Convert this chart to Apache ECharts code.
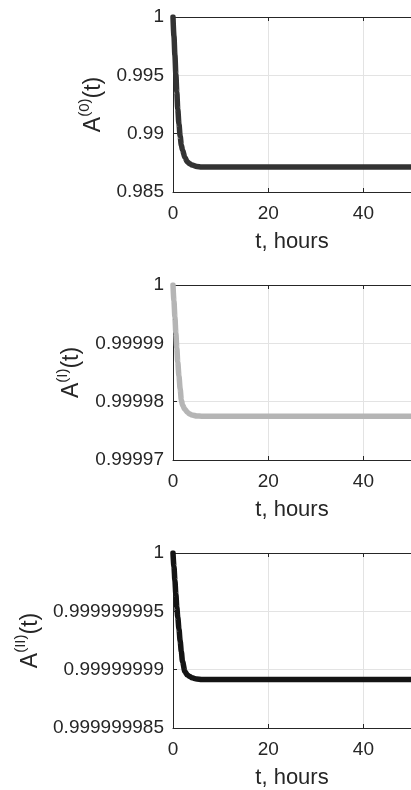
<!DOCTYPE html>
<html>
<head>
<meta charset="utf-8">
<script src="https://cdn.jsdelivr.net/npm/echarts@6/dist/echarts.min.js"></script>
<style>
html,body{margin:0;padding:0;background:#fff;}
#chart{width:411px;height:790px;}
</style>
</head>
<body>
<div id="chart"></div>
<script>
// ---- data ----
const tHours = [0, 0.2, 0.4, 0.6, 0.8, 1, 1.25, 1.5, 1.75, 2, 2.5, 3, 3.5, 4, 5, 6, 8, 10, 20, 30, 40, 50];

const A0 = [1.0, 0.99837, 0.99674, 0.99511, 0.99357, 0.99211, 0.99083, 0.98980, 0.98903, 0.98860,
            0.98796, 0.98759, 0.98742, 0.98731, 0.98719, 0.98715, 0.98714, 0.98714, 0.98714, 0.98714, 0.98714, 0.98714];

const A1 = [1.0, 0.99999726, 0.99999451, 0.99999177, 0.99998920, 0.99998680, 0.99998440, 0.99998220,
            0.99998030, 0.99997940, 0.99997870, 0.99997820, 0.99997790, 0.99997770, 0.99997755, 0.99997750,
            0.99997750, 0.99997750, 0.99997750, 0.99997750, 0.99997750, 0.99997750];

const A2 = [1.0, 0.999999998837, 0.999999997650, 0.999999996460, 0.999999995360, 0.999999994510,
            0.999999993490, 0.999999992470, 0.999999991540, 0.999999990690, 0.999999989840,
            0.999999989540, 0.999999989410, 0.999999989300, 0.999999989190, 0.999999989160,
            0.999999989150, 0.999999989150, 0.999999989150, 0.999999989150, 0.999999989150, 0.999999989150];

const xTicks = [0, 20, 40];
const yTicks0 = ['0.985', '0.99', '0.995', '1'];
const yTicks1 = ['0.99997', '0.99998', '0.99999', '1'];
const yTicks2 = ['0.999999985', '0.99999999', '0.999999995', '1'];

const xLabel = 't, hours';
const yNames = ['(0)', '(I)', '(II)'];

// ---- styling ----
const FONT = '"Liberation Sans", Arial, Helvetica, sans-serif';
const TXT = '#262626';
const GRIDC = '#e3e3e3';

const panels = [
  {top: 17, height: 175, min: 0.985, max: 1, interval: 0.005, dec: 3, data: A0, color: '#333333', sup: yNames[0], gap: 54},
  {top: 285, height: 175, min: 0.99997, max: 1, interval: 0.00001, dec: 5, data: A1, color: '#b5b5b5', sup: yNames[1], gap: 84},
  {top: 553, height: 176, min: 0.999999985, max: 1, interval: 0.000000005, dec: 9, data: A2, color: '#141414', sup: yNames[2], gap: 124}
];

const grid = [], xAxis = [], yAxis = [], series = [];
panels.forEach((p, i) => {
  grid.push({left: 173, top: p.top, width: 245, height: p.height, containLabel: false});
  xAxis.push({
    type: 'value', gridIndex: i, min: 0, max: 50, interval: 20, position: 'bottom',
    name: xLabel, nameLocation: 'middle', nameGap: 39,
    nameTextStyle: {fontFamily: FONT, fontSize: 22, color: TXT},
    axisLine: {show: true, onZero: false, lineStyle: {color: TXT, width: 1}},
    axisTick: {show: true, inside: true, length: 4, lineStyle: {color: TXT}},
    axisLabel: {fontFamily: FONT, fontSize: 19, color: TXT, margin: 12, showMaxLabel: false,
                formatter: v => (xTicks.indexOf(v) >= 0 ? String(v) : '')},
    splitLine: {show: true, lineStyle: {color: GRIDC, width: 1}}
  });
  xAxis.push({
    type: 'value', gridIndex: i, min: 0, max: 50, interval: 20, position: 'top',
    axisLine: {show: true, onZero: false, lineStyle: {color: TXT, width: 1}},
    axisTick: {show: true, inside: true, length: 4, lineStyle: {color: TXT}},
    axisLabel: {show: false}, splitLine: {show: false}
  });
  const labels = [yTicks0, yTicks1, yTicks2][i];
  yAxis.push({
    type: 'value', gridIndex: i, min: p.min, max: p.max, interval: p.interval, position: 'left',
    name: '{b|A}{s|' + p.sup + '}{b|(t)}', nameLocation: 'middle', nameGap: p.gap, nameRotate: 90,
    nameTextStyle: {
      color: TXT,
      rich: {
        b: {fontFamily: FONT, fontSize: 23, lineHeight: 34, color: TXT},
        s: {fontFamily: FONT, fontSize: 15, lineHeight: 15, verticalAlign: 'top', color: TXT}
      }
    },
    axisLine: {show: true, onZero: false, lineStyle: {color: TXT, width: 1}},
    axisTick: {show: true, inside: true, length: 4, lineStyle: {color: TXT}},
    axisLabel: {fontFamily: FONT, fontSize: 19, color: TXT, margin: 9,
                formatter: v => {
                  const s = String(+v.toFixed(p.dec));
                  return labels.indexOf(s) >= 0 ? s : '';
                }},
    splitLine: {show: true, lineStyle: {color: GRIDC, width: 1}}
  });
  series.push({
    type: 'line', xAxisIndex: 2 * i, yAxisIndex: i,
    data: tHours.map((t, k) => [t, p.data[k]]),
    showSymbol: false, smooth: 0.3, smoothMonotone: 'x',
    lineStyle: {color: p.color, width: 5.5, cap: 'round', join: 'round'},
    animation: false, clip: true
  });
});

const chart = echarts.init(document.getElementById('chart'), null, {renderer: 'canvas'});
chart.setOption({
  animation: false,
  backgroundColor: '#ffffff',
  grid, xAxis, yAxis, series
});
</script>
</body>
</html>
